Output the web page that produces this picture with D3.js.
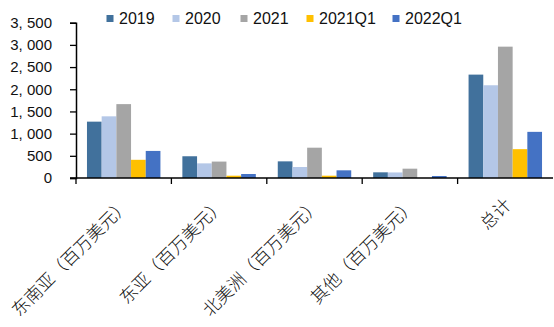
<!DOCTYPE html>
<html><head><meta charset="utf-8">
<script src="https://cdn.jsdelivr.net/npm/d3@7"></script>
<style>body{margin:0;background:#fff}svg{display:block}</style>
</head><body>
<svg id="c" width="554" height="327"></svg>
<script>
const categories = ["东南亚（百万美元）","东亚（百万美元）","北美洲（百万美元）","其他（百万美元）","总计"];
const seriesNames = ["2019","2020","2021","2021Q1","2022Q1"];
const v2019   = [1270, 490, 375, 128, 2330];
const v2020   = [1390, 330, 248, 125, 2090];
const v2021   = [1665, 370, 683, 210, 2960];
const v2021Q1 = [410, 52, 52, 0, 650];
const v2022Q1 = [610, 90, 173, 45, 1040];
const yTicks = [0,500,1000,1500,2000,2500,3000,3500];
const colors = ["#41719C","#B4C7E7","#A5A5A5","#FFC000","#4472C4"];

const seriesVals = [v2019, v2020, v2021, v2021Q1, v2022Q1];
const svg = d3.select("#c");
const L = 76, R = 553, T = 22.7, B = 178;
const x0 = d3.scaleBand().domain(categories).range([L, R]).paddingInner(0.23).paddingOuter(0.115);
const x1 = d3.scaleBand().domain(seriesNames).range([0, x0.bandwidth()]);
const y = d3.scaleLinear().domain([0, 3500]).range([B, T]);

// bars
categories.forEach((c, ci) => {
  const g = svg.append("g").attr("transform", `translate(${x0(c)},0)`);
  seriesNames.forEach((s, si) => {
    const v = seriesVals[si][ci];
    g.append("rect").attr("x", x1(s)).attr("width", x1.bandwidth())
      .attr("y", y(v)).attr("height", B - y(v)).attr("fill", colors[si]);
  });
});

// y axis
const fmt = d => d3.format(",")(d).replace(",", ", ");
const ya = svg.append("g").attr("transform", `translate(${L},0)`)
  .call(d3.axisLeft(y).tickValues(yTicks).tickFormat(fmt).tickSize(6).tickPadding(18));
ya.select(".domain").attr("stroke", "#000").attr("stroke-width", 1.5);
ya.selectAll(".tick line").attr("stroke", "#000").attr("stroke-width", 1.3);
ya.selectAll("text").attr("font-family", "Liberation Sans, Arial, sans-serif").attr("font-size", 15).attr("fill", "#111");

// x axis
svg.append("line").attr("x1", L - 6).attr("x2", R).attr("y1", B).attr("y2", B).attr("stroke", "#000").attr("stroke-width", 1.5);
const step = x0.step();
categories.forEach((c, i) => {
  const xb = x0(c) - x0.paddingOuter() * step;
  svg.append("line").attr("x1", xb).attr("x2", xb).attr("y1", B).attr("y2", B + 6).attr("stroke", "#000").attr("stroke-width", 1.3);
});
categories.forEach(c => {
  const cx = x0(c) + x0.bandwidth() / 2;
  svg.append("text").attr("transform", `translate(${cx + 7},${B + 28}) rotate(-45)`)
    .attr("text-anchor", "end").attr("font-family", "Noto Sans CJK SC, sans-serif")
    .attr("font-weight", 300)
    .attr("font-size", 17.5).attr("fill", "#111").text(c);
});

// legend
const legX = [106.5, 172.5, 240.5, 306.5, 392.5];
seriesNames.forEach((s, i) => {
  svg.append("rect").attr("x", legX[i]).attr("y", 15).attr("width", 7).attr("height", 7).attr("fill", colors[i]);
  svg.append("text").attr("x", legX[i] + 12.5).attr("y", 24).attr("font-family", "Liberation Sans, Arial, sans-serif")
    .attr("font-size", 16).attr("fill", "#111").text(s);
});
</script>
</body></html>
